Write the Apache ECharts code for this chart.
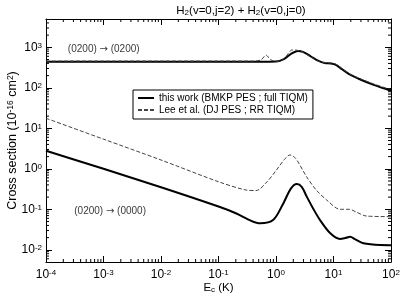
<!DOCTYPE html>
<html><head><meta charset="utf-8">
<script src="https://cdn.jsdelivr.net/npm/echarts@6/dist/echarts.min.js"></script>
<style>html,body{margin:0;padding:0;background:#fff}#c{width:400px;height:300px}</style>
</head><body><div id="c"></div>
<script>
// ---- data ----
const elasticThisE = [1e-4, 1e-3, 1e-2, 0.1, 0.5, 1.0, 1.4, 1.8, 2.4, 3.0, 4.0, 5.5, 7.0, 9.0, 11, 14, 19, 30, 50, 100];
const elasticThisS = [440, 440, 440, 440, 440, 445, 520, 680, 810, 760, 600, 460, 410, 400, 370, 290, 215, 158, 118, 84];
const elasticLeeE = [1e-4, 1e-3, 1e-2, 0.1, 0.4, 0.55, 0.67, 0.8, 0.95, 1.2, 1.5, 1.9, 2.3, 3.0, 4.0, 5.5, 7.0, 9.0, 11, 14, 19, 30, 50, 100];
const elasticLeeS = [458, 458, 458, 458, 458, 490, 640, 500, 452, 462, 600, 860, 850, 740, 580, 450, 415, 410, 385, 300, 222, 165, 125, 90];
const inelThisE = [1e-4, 1e-3, 1e-2, 0.1, 0.2, 0.37, 0.53, 0.9, 1.34, 1.8, 2.3, 2.8, 3.4, 4.5, 5.8, 8.7, 13, 16, 19.4, 24, 33, 65, 100];
const inelThisS = [2.8, 1.0, 0.35, 0.117, 0.08, 0.052, 0.045, 0.055, 0.14, 0.32, 0.42, 0.36, 0.21, 0.1, 0.055, 0.026, 0.0185, 0.0195, 0.021, 0.018, 0.0145, 0.0131, 0.013];
const inelLeeE = [1e-4, 1e-3, 1e-2, 0.1, 0.3, 0.45, 0.7, 1.0, 1.4, 1.75, 2.2, 3.4, 5.0, 7.6, 13, 19, 25, 38, 100];
const inelLeeS = [17.7, 5.4, 1.65, 0.48, 0.3, 0.29, 0.48, 0.9, 1.7, 2.2, 1.8, 0.64, 0.3, 0.17, 0.1, 0.1, 0.085, 0.068, 0.066];
const xMin = 1e-4, xMax = 100, yMin = 0.005, yMax = 5000;
const mantissas = [2, 3, 4, 5, 6, 7, 8, 9];
const xDecades = [1e-4, 1e-3, 1e-2, 1e-1, 1, 10];
const yDecades = [1e-3, 1e-2, 1e-1, 1, 10, 100, 1000];
const nameThis = 'this work (BMKP PES ; full TIQM)';
const nameLee = 'Lee et al. (DJ PES ; RR TIQM)';
const labelElastic = '{t|(0200) }{a|\u2192}{t| (0200)}';
const labelInel = '{t|(0200) }{a|\u2192}{t| (0000)}';
const annElastic = [2.4e-4, 890];
const annInel = [3.1e-4, 0.09];

// ---- build ----
const zip = (a, b) => a.map((v, i) => [v, b[i]]);
const xMinor = [], yMinor = [];
xDecades.forEach(d => mantissas.forEach(m => { const v = d * m; if (v > xMin && v < xMax) xMinor.push([v, 1]); }));
yDecades.forEach(d => mantissas.forEach(m => { const v = d * m; if (v > yMin && v < yMax) yMinor.push([1, v]); }));

const FF = 'Liberation Sans, Arial, sans-serif';
const supFmt = v => {
  const e = Math.log10(v);
  if (Math.abs(e - Math.round(e)) > 1e-6) return '';
  return '{b|10}{s|' + Math.round(e) + '}';
};
const tickRich = {
  b: {fontSize: 12, fontFamily: FF, color: '#000', verticalAlign: 'bottom', lineHeight: 12, padding: [4, 0, 0, 0]},
  s: {fontSize: 8, fontFamily: FF, color: '#000', verticalAlign: 'top', lineHeight: 9}
};
const axisCommon = {
  type: 'log', logBase: 10,
  axisLine: {show: true, lineStyle: {color: '#000', width: 1}},
  axisTick: {show: true, inside: true, length: 6, lineStyle: {color: '#000', width: 1}},
  splitLine: {show: false},
  minorTick: {show: false}
};
const minorTickLen = 3;

const chart = echarts.init(document.getElementById('c'), null, {renderer: 'canvas'});
chart.setOption({
  animation: false,
  backgroundColor: '#fff',
  title: {
    text: '{b|H}{u|2}{b|(v=0,j=2) + H}{u|2}{b|(v=0,j=0)}',
    left: 236, top: 0, textAlign: 'center',
    textStyle: {fontSize: 11.5, fontWeight: 'normal', color: '#000', fontFamily: FF,
      rich: {
        b: {fontSize: 11.5, fontFamily: FF, color: '#000', verticalAlign: 'top', lineHeight: 12, padding: [0, 0, 3, 0]},
        u: {fontSize: 8, fontFamily: FF, color: '#000', verticalAlign: 'bottom', lineHeight: 8}
      }}
  },
  legend: {
    data: [nameThis, nameLee],
    orient: 'vertical', left: 133, top: 90,
    padding: [3, 5, 4, 4], itemGap: 2, itemWidth: 16, itemHeight: 10,
    borderColor: '#000', borderWidth: 1, backgroundColor: '#fff',
    textStyle: {fontSize: 10, fontFamily: FF, color: '#000'},
    itemStyle: {color: 'rgba(0,0,0,0)', borderColor: 'rgba(0,0,0,0)', borderWidth: 0},
    selectedMode: false
  },
  grid: {left: 46, right: 9, top: 19, bottom: 38, outerBoundsMode: 'none', containLabel: false},
  xAxis: [
    Object.assign({}, axisCommon, {
      position: 'bottom', min: xMin, max: xMax,
      name: '{b|E}{u|c}{b| (K)}', nameLocation: 'middle', nameGap: 20, nameMoveOverlap: false,
      nameTextStyle: {fontFamily: FF, color: '#000', fontSize: 11.5,
        rich: {b: {fontSize: 11.5, fontFamily: FF, color: '#000', verticalAlign: 'top', lineHeight: 12, padding: [0, 0, 3, 0]},
               u: {fontSize: 8, fontFamily: FF, color: '#000', verticalAlign: 'bottom', lineHeight: 8}}},
      axisLabel: {formatter: supFmt, rich: tickRich, margin: 7, showMinLabel: true, showMaxLabel: true, hideOverlap: false}
    }),
    Object.assign({}, axisCommon, {position: 'top', min: xMin, max: xMax, axisLabel: {show: false}})
  ],
  yAxis: [
    Object.assign({}, axisCommon, {
      position: 'left', min: yMin, max: yMax,
      name: '{b|Cross section (10}{s|-16}{b| cm}{s|2}{b|)}', nameLocation: 'middle', nameGap: 27, nameMoveOverlap: false,
      nameTextStyle: {fontFamily: FF, color: '#000', fontSize: 12.5,
        rich: {b: {fontSize: 12.5, fontFamily: FF, color: '#000', verticalAlign: 'bottom', lineHeight: 13, padding: [4, 0, 0, 0]},
               s: {fontSize: 8.5, fontFamily: FF, color: '#000', verticalAlign: 'top', lineHeight: 9}}},
      axisLabel: {formatter: supFmt, rich: tickRich, margin: 4, hideOverlap: false}
    }),
    Object.assign({}, axisCommon, {position: 'right', min: yMin, max: yMax, axisLabel: {show: false}})
  ],
  series: [
    {name: nameThis, type: 'line', data: zip(elasticThisE, elasticThisS), smooth: 0.3, symbol: 'none',
      lineStyle: {color: '#000', width: 2}, itemStyle: {color: '#000'}, z: 3},
    {name: nameLee, type: 'line', data: zip(elasticLeeE, elasticLeeS), smooth: 0.3, symbol: 'none',
      lineStyle: {color: '#444', width: 1, type: [4, 2]}, itemStyle: {color: '#444'}, z: 4},
    {name: nameThis, type: 'line', data: zip(inelThisE, inelThisS), smooth: 0.3, symbol: 'none',
      lineStyle: {color: '#000', width: 2}, itemStyle: {color: '#000'}, z: 3},
    {name: nameLee, type: 'line', data: zip(inelLeeE, inelLeeS), smooth: 0.3, symbol: 'none',
      lineStyle: {color: '#444', width: 1, type: [4, 2]}, itemStyle: {color: '#444'}, z: 4},
    {type: 'scatter', data: [annElastic, annInel].map((p, i) => ({value: p, label: {formatter: i === 0 ? labelElastic : labelInel}})),
      symbolSize: 0, silent: true,
      label: {show: true, position: 'right', distance: 0, color: '#000', textBorderWidth: 0,
        rich: {t: {fontSize: 10, fontFamily: FF, color: '#000'},
               a: {fontSize: 10, fontFamily: 'DejaVu Sans', color: '#000'}}}},
    {type: 'custom', data: xMinor, silent: true, clip: false, z: 5,
      renderItem: (params, api) => {
        const v = api.value(0);
        const b = api.coord([v, yMin]), t = api.coord([v, yMax]);
        return {type: 'group', children: [
          {type: 'line', shape: {x1: b[0], y1: b[1], x2: b[0], y2: b[1] - minorTickLen}, style: {stroke: '#000', lineWidth: 1}},
          {type: 'line', shape: {x1: t[0], y1: t[1], x2: t[0], y2: t[1] + minorTickLen}, style: {stroke: '#000', lineWidth: 1}}
        ]};
      }},
    {type: 'custom', data: yMinor, silent: true, clip: false, z: 5,
      renderItem: (params, api) => {
        const v = api.value(1);
        const l = api.coord([xMin, v]), r = api.coord([xMax, v]);
        return {type: 'group', children: [
          {type: 'line', shape: {x1: l[0], y1: l[1], x2: l[0] + minorTickLen, y2: l[1]}, style: {stroke: '#000', lineWidth: 1}},
          {type: 'line', shape: {x1: r[0], y1: r[1], x2: r[0] - minorTickLen, y2: r[1]}, style: {stroke: '#000', lineWidth: 1}}
        ]};
      }}
  ]
});
</script></body></html>
